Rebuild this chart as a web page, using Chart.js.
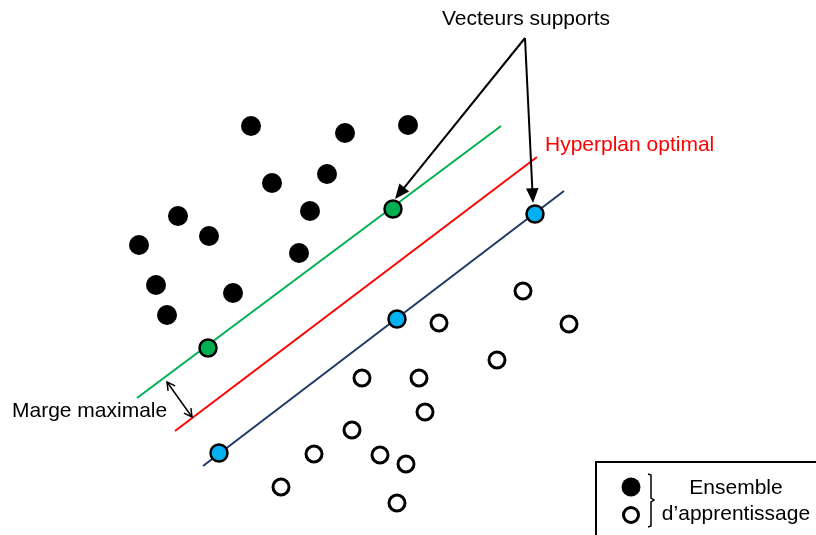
<!DOCTYPE html>
<html>
<head>
<meta charset="utf-8">
<script src="https://cdn.jsdelivr.net/npm/chart.js@4/dist/chart.umd.min.js"></script>
<style>
  body { margin: 0; background: #fff; }
  canvas { display: block; }
</style>
</head>
<body>
<canvas id="svm" width="816" height="535"></canvas>
<script>
// classe 1 (points noirs)
const classeA = [
    [251, 126], [345, 133], [408, 125], [272, 183], [327, 174], [178, 216],
    [310, 211], [209, 236], [139, 245], [299, 253], [156, 285], [233, 293], [167, 315]
];
// classe 2 (cercles vides)
const classeB = [
    [523, 291], [569, 324], [439, 323], [497, 360], [362, 378], [419, 378],
    [425, 412], [352, 430], [314, 454], [380, 455], [406, 464], [281, 487], [397, 503]
];
// vecteurs supports
const supportsA = [[393, 209], [208, 348]];
const supportsB = [[535, 214], [397, 319], [219, 453]];
// droites : marge haute, hyperplan, marge basse
const margeHaute = [[137, 398], [501, 126]];
const hyperplan = [[175, 431], [537, 157]];
const margeBasse = [[203, 466], [564, 191]];

const pts = arr => arr.map(p => ({ x: p[0], y: p[1] }));

function fleche(ctx, x1, y1, x2, y2, tete) {
    const a = Math.atan2(y2 - y1, x2 - x1);
    ctx.beginPath();
    ctx.moveTo(x1, y1);
    ctx.lineTo(x2 - Math.cos(a) * tete * 0.8, y2 - Math.sin(a) * tete * 0.8);
    ctx.stroke();
    ctx.beginPath();
    ctx.moveTo(x2, y2);
    ctx.lineTo(x2 - tete * Math.cos(a - 0.4), y2 - tete * Math.sin(a - 0.4));
    ctx.lineTo(x2 - tete * Math.cos(a + 0.4), y2 - tete * Math.sin(a + 0.4));
    ctx.closePath();
    ctx.fill();
}

function pointeOuverte(ctx, x, y, a, t) {
    ctx.beginPath();
    ctx.moveTo(x - t * Math.cos(a - 0.5), y - t * Math.sin(a - 0.5));
    ctx.lineTo(x, y);
    ctx.lineTo(x - t * Math.cos(a + 0.5), y - t * Math.sin(a + 0.5));
    ctx.stroke();
}

const annotations = {
    id: 'annotations',
    afterDatasetsDraw(chart) {
        const ctx = chart.ctx;
        const sx = chart.scales.x, sy = chart.scales.y;
        const X = v => sx.getPixelForValue(v), Y = v => sy.getPixelForValue(v);
        ctx.save();
        ctx.fillStyle = '#000';
        ctx.strokeStyle = '#000';

        // flèches vers les vecteurs supports
        ctx.lineWidth = 2;
        fleche(ctx, X(525), Y(38), X(395), Y(199), 16);
        fleche(ctx, X(525), Y(38), X(533), Y(203), 16);

        // flèche double de la marge
        ctx.lineWidth = 1.5;
        const x1 = X(167), y1 = Y(382), x2 = X(192), y2 = Y(417);
        ctx.beginPath(); ctx.moveTo(x1, y1); ctx.lineTo(x2, y2); ctx.stroke();
        const a = Math.atan2(y2 - y1, x2 - x1);
        pointeOuverte(ctx, x2, y2, a, 9);
        pointeOuverte(ctx, x1, y1, a + Math.PI, 9);

        // textes
        ctx.font = '21px "Liberation Sans", Arial, sans-serif';
        ctx.textBaseline = 'middle';
        ctx.textAlign = 'center';
        ctx.fillText('Vecteurs supports', X(526), Y(19));
        ctx.textAlign = 'left';
        ctx.fillStyle = '#ff0000';
        ctx.fillText('Hyperplan optimal', X(545), Y(145));
        ctx.fillStyle = '#000';
        ctx.fillText('Marge maximale', X(12), Y(411));

        // légende
        ctx.lineWidth = 2;
        ctx.beginPath();
        ctx.moveTo(X(596), Y(535));
        ctx.lineTo(X(596), Y(462));
        ctx.lineTo(X(816), Y(462));
        ctx.stroke();
        ctx.beginPath();
        ctx.arc(X(631), Y(487), 9.5, 0, Math.PI * 2);
        ctx.fill();
        ctx.lineWidth = 3;
        ctx.beginPath();
        ctx.arc(X(631), Y(515), 7.5, 0, Math.PI * 2);
        ctx.stroke();
        ctx.lineWidth = 1.5;
        ctx.beginPath();
        ctx.moveTo(X(648), Y(474));
        ctx.lineTo(X(651), Y(475));
        ctx.lineTo(X(651), Y(498));
        ctx.lineTo(X(654), Y(500));
        ctx.lineTo(X(651), Y(502));
        ctx.lineTo(X(651), Y(526));
        ctx.lineTo(X(648), Y(527));
        ctx.stroke();
        ctx.textAlign = 'center';
        ctx.fillText('Ensemble', X(736), Y(488));
        ctx.fillText('d\u2019apprentissage', X(736), Y(514));
        ctx.restore();
    }
};

function droite(data, couleur) {
    return {
        type: 'line',
        data: pts(data),
        borderColor: couleur,
        borderWidth: 2,
        pointRadius: 0,
        fill: false,
        order: 3
    };
}

new Chart(document.getElementById('svm').getContext('2d'), {
    type: 'scatter',
    data: {
        datasets: [
            droite(margeHaute, '#00b050'),
            droite(hyperplan, '#ff0000'),
            droite(margeBasse, '#1f3864'),
            {
                data: pts(classeA),
                backgroundColor: '#000',
                borderColor: '#000',
                borderWidth: 0,
                pointRadius: 10,
                order: 1
            },
            {
                data: pts(classeB),
                backgroundColor: '#fff',
                borderColor: '#000',
                borderWidth: 3,
                pointRadius: 8,
                order: 1
            },
            {
                data: pts(supportsA),
                backgroundColor: '#00b050',
                borderColor: '#000',
                borderWidth: 2.5,
                pointRadius: 8.5,
                order: 0
            },
            {
                data: pts(supportsB),
                backgroundColor: '#00b0f0',
                borderColor: '#000',
                borderWidth: 2.5,
                pointRadius: 8.5,
                order: 0
            }
        ]
    },
    options: {
        responsive: false,
        animation: false,
        layout: { padding: 0, autoPadding: false },
        plugins: { legend: { display: false }, tooltip: { enabled: false } },
        scales: {
            x: { type: 'linear', min: 0, max: 816, display: false },
            y: { type: 'linear', min: 0, max: 535, reverse: true, display: false }
        },
        elements: { point: { hoverRadius: 0 } }
    },
    plugins: [annotations]
});
</script>
</body>
</html>
